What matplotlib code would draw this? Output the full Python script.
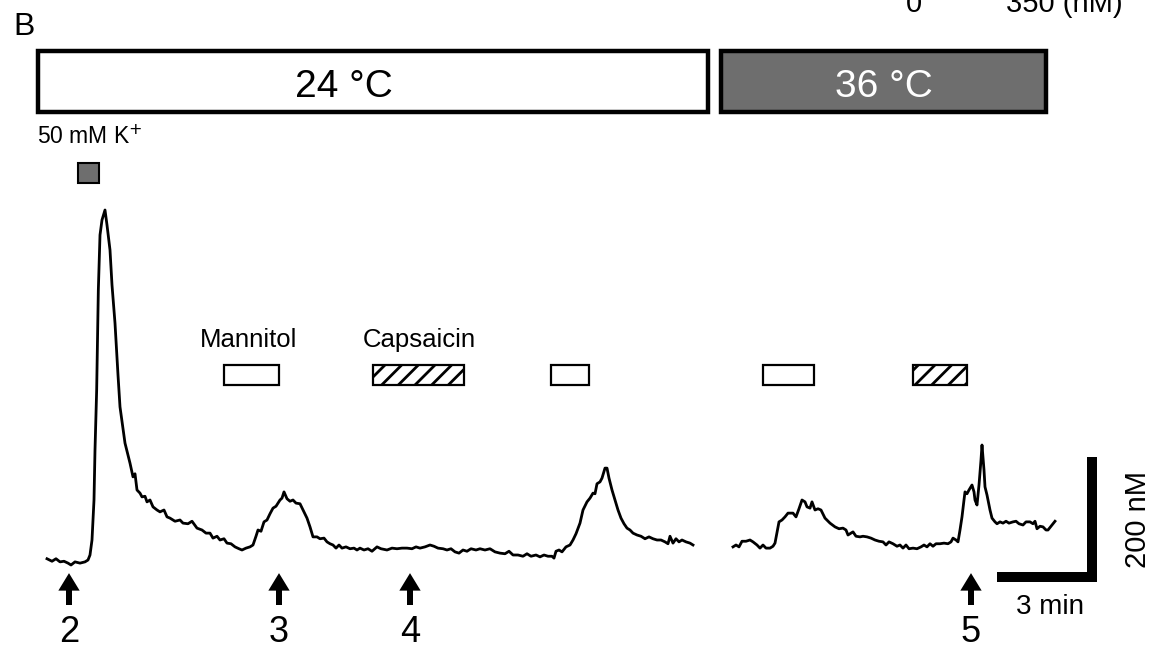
import numpy as np
import matplotlib.pyplot as plt
from matplotlib.patches import Rectangle

plt.rcParams['font.family'] = ['Liberation Sans', 'DejaVu Sans']
plt.rcParams['hatch.linewidth'] = 2.0

# Ca2+ trace at 24 C (time in min, concentration in nM)
t_24 = [0.00, 0.15, 0.27, 0.39, 0.51, 0.63, 0.72, 0.84, 0.99, 1.14, 1.23, 1.29, 1.35, 1.41, 1.44,
        1.49, 1.54, 1.59, 1.65, 1.74, 1.80, 1.89, 1.95, 2.04, 2.13, 2.19, 2.34, 2.49, 2.58, 2.64,
        2.70, 2.79, 2.85, 2.94, 3.00, 3.09, 3.18, 3.30, 3.39, 3.51, 3.60, 3.69, 3.84, 3.99, 4.08,
        4.23, 4.35, 4.50, 4.65, 4.77, 4.89, 4.98, 5.10, 5.19, 5.31, 5.40, 5.52, 5.64, 5.76, 5.85,
        5.97, 6.09, 6.18, 6.27, 6.33, 6.42, 6.51, 6.60, 6.69, 6.78, 6.87, 6.99, 7.05, 7.11, 7.20,
        7.29, 7.38, 7.47, 7.59, 7.68, 7.80, 7.89, 7.98, 8.10, 8.19, 8.31, 8.40, 8.49, 8.58, 8.67,
        8.76, 8.85, 8.97, 9.09, 9.21, 9.30, 9.39, 9.51, 9.63, 9.75, 9.90, 10.02, 10.20, 10.35, 10.50,
        10.65, 10.80, 10.95, 11.07, 11.19, 11.34, 11.49, 11.61, 11.73, 11.88, 12.00, 12.12, 12.24,
        12.36, 12.48, 12.60, 12.72, 12.87, 12.99, 13.14, 13.29, 13.44, 13.59, 13.74, 13.86, 13.98,
        14.13, 14.28, 14.40, 14.52, 14.67, 14.79, 14.91, 15.03, 15.15, 15.21, 15.27, 15.36, 15.45,
        15.57, 15.69, 15.78, 15.87, 15.99, 16.08, 16.20, 16.29, 16.38, 16.44, 16.50, 16.59, 16.65,
        16.74, 16.80, 16.86, 16.95, 17.04, 17.13, 17.22, 17.31, 17.40, 17.49, 17.58, 17.70, 17.82,
        17.94, 18.06, 18.18, 18.30, 18.42, 18.54, 18.63, 18.69, 18.78, 18.87, 18.96, 19.05, 19.17,
        19.29, 19.38]
c_24 = [66, 62, 66, 61, 62, 59, 56, 61, 59, 61, 64, 72, 96, 160, 240,
        336, 496, 584, 608, 624, 600, 560, 504, 443, 360, 309, 251, 219, 197, 202,
        176, 171, 165, 166, 157, 160, 149, 144, 141, 144, 133, 131, 126, 128, 123,
        122, 126, 115, 112, 107, 107, 99, 102, 96, 98, 91, 90, 85, 82, 80,
        83, 85, 88, 102, 112, 110, 125, 128, 138, 147, 150, 160, 163, 173, 162,
        158, 160, 155, 154, 144, 131, 117, 101, 101, 98, 99, 93, 90, 88, 83,
        88, 83, 85, 82, 83, 80, 83, 80, 82, 78, 85, 82, 80, 83, 82,
        83, 83, 82, 85, 83, 85, 88, 86, 83, 82, 80, 82, 77,
        75, 80, 78, 82, 80, 82, 80, 82, 77, 75, 74, 78, 72,
        72, 70, 74, 70, 72, 69, 72, 70, 70, 67, 78, 80, 77,
        85, 88, 96, 106, 123, 144, 157, 163, 171, 170, 186, 189, 195,
        211, 211, 195, 176, 160, 144, 131, 122, 115, 112, 107, 104, 102,
        98, 101, 98, 96, 96, 93, 90, 102, 91, 98, 93, 96, 93,
        91, 88]

# Ca2+ trace at 36 C
t_36 = [20.58, 20.67, 20.76, 20.85, 20.97, 21.09, 21.18, 21.30, 21.39, 21.48, 21.57, 21.69, 21.78,
        21.84, 21.96, 22.05, 22.14, 22.23, 22.32, 22.38, 22.47, 22.56, 22.65, 22.74, 22.80, 22.89,
        22.95, 23.04, 23.13, 23.22, 23.34, 23.49, 23.64, 23.76, 23.88, 23.97, 24.03, 24.12, 24.18,
        24.27, 24.39, 24.48, 24.60, 24.72, 24.84, 24.96, 25.08, 25.17, 25.26, 25.38, 25.50, 25.59,
        25.68, 25.77, 25.86, 25.98, 26.10, 26.22, 26.31, 26.40, 26.49, 26.58, 26.67, 26.79, 26.91,
        27.03, 27.12, 27.18, 27.27, 27.33, 27.39, 27.45, 27.51, 27.54, 27.60, 27.66, 27.75, 27.81,
        27.84, 27.90, 27.96, 28.02, 28.05, 28.11, 28.14, 28.20, 28.23, 28.29, 28.35, 28.44, 28.50,
        28.59, 28.68, 28.77, 28.86, 28.98, 29.07, 29.16, 29.28, 29.37, 29.49, 29.58, 29.64, 29.70,
        29.79, 29.88, 29.97, 30.03, 30.12, 30.24]
c_36 = [85, 88, 85, 94, 94, 96, 93, 88, 83, 88, 83, 83, 86,
        91, 125, 128, 133, 139, 139, 139, 133, 146, 160, 157, 149, 147,
        157, 144, 146, 144, 131, 123, 117, 114, 115, 112, 104, 107, 109,
        102, 101, 102, 101, 99, 96, 94, 93, 88, 93, 90, 86, 88,
        83, 88, 82, 83, 82, 85, 88, 85, 90, 86, 90, 90, 91,
        90, 93, 99, 96, 93, 112, 133, 160, 173, 170, 176, 184, 173,
        160, 152, 184, 224, 248, 208, 181, 168, 160, 144, 131, 125, 122,
        125, 123, 126, 123, 125, 126, 122, 120, 125, 125, 122, 126, 114,
        118, 117, 112, 112, 118, 126]

# temperature periods (min)
temp_labels = ['24 \u00b0C', '36 \u00b0C']
temp_start = [-0.27, 20.22]
temp_end = [19.83, 29.97]
temp_label_t = [8.91, 25.11]

# drug applications (min)
drug_start = [5.31, 9.78, 15.12, 21.48, 25.98]
drug_end = [6.96, 12.51, 16.26, 23.01, 27.60]
drug_hatched = [False, True, False, False, True]
drug_names = ['Mannitol', 'Capsaicin']
drug_name_t = [6.06, 11.17]

# high K+ application
k_start, k_end = 0.93, 1.56

# numbered time points (min)
mark_t = [0.66, 6.96, 10.89, 27.72]
mark_labels = ['2', '3', '4', '5']

fig = plt.figure(figsize=(11.52, 6.5), dpi=100)
ax = fig.add_axes([0, 0, 1, 1])
ax.set_xlim(-1.41, 33.15)
ax.set_ylim(-80, 960)
ax.axis('off')

# traces
ax.plot(t_24, c_24, color='black', lw=2.0, solid_joinstyle='round')
ax.plot(t_36, c_36, color='black', lw=2.0, solid_joinstyle='round')

# temperature bars
for i in range(len(temp_labels)):
    fc = 'white' if i == 0 else '#6e6e6e'
    tc = 'black' if i == 0 else 'white'
    ax.add_patch(Rectangle((temp_start[i], 781), temp_end[i] - temp_start[i], 98,
                           facecolor=fc, edgecolor='black', lw=3.2))
    ax.text(temp_label_t[i], 805, temp_labels[i], ha='center', va='baseline',
            fontsize=28, color=tc)

# 50 mM K+
ax.text(-0.30, 730, '50 mM K$^{+}$', ha='left', va='baseline', fontsize=16.5)
ax.add_patch(Rectangle((k_start, 667), k_end - k_start, 32,
                       facecolor='#6e6e6e', edgecolor='black', lw=1.5))

# drug boxes
for i in range(len(drug_start)):
    ax.add_patch(Rectangle((drug_start[i], 344), drug_end[i] - drug_start[i], 32,
                           facecolor='white', edgecolor='black', lw=1.6,
                           hatch='//' if drug_hatched[i] else None))
for name, tt in zip(drug_names, drug_name_t):
    ax.text(tt, 405, name, ha='center', va='baseline', fontsize=18.5)

# numbered arrows
for tt, lab in zip(mark_t, mark_labels):
    ax.arrow(tt, -8, 0, 51, width=0.18, head_width=0.64, head_length=28,
             length_includes_head=True, color='black', lw=0)
    ax.text(tt, -68, lab, ha='center', va='baseline', fontsize=26)

# scale bar: 3 min x 200 nM
bar_t, bar_c = 3, 200
x0, y0 = 28.5, 28.8
th_t, th_c = 0.15, 8
ax.plot([x0, x0 + bar_t - th_t, x0 + bar_t - th_t], [y0 + th_c, y0 + th_c, y0 + bar_c],
        color='black', lw=7.2, solid_joinstyle='miter', solid_capstyle='butt')
ax.text(x0 + 1.6, -11, '3 min', ha='center', va='center', fontsize=20)
ax.text(32.73, 128, '200 nM', ha='center', va='center', rotation=90, fontsize=21)

# panel letter and colour scale labels (cut off at the top, as in the original)
ax.text(-1.02, 904, 'B', ha='left', va='baseline', fontsize=23)
ax.text(26.0, 941, '0', ha='center', va='baseline', fontsize=21)
ax.text(30.51, 941, '350 (nM)', ha='center', va='baseline', fontsize=21)

fig.savefig('out.png', dpi=100)
